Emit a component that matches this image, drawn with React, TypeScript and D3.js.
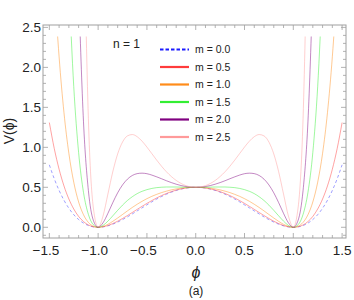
import React, { useEffect, useRef } from 'react';
import * as d3 from 'd3';

// phi grid, -1.5 .. 1.5 in steps of 0.05
const phi = [
  -1.5, -1.45, -1.4, -1.35, -1.3, -1.25, -1.2, -1.15, -1.1, -1.05,
  -1.0, -0.95, -0.9, -0.85, -0.8, -0.75, -0.7, -0.65, -0.6, -0.55,
  -0.5, -0.45, -0.4, -0.35, -0.3, -0.25, -0.2, -0.15, -0.1, -0.05,
  0,
  0.05, 0.1, 0.15, 0.2, 0.25, 0.3, 0.35, 0.4, 0.45, 0.5,
  0.55, 0.6, 0.65, 0.7, 0.75, 0.8, 0.85, 0.9, 0.95, 1.0,
  1.05, 1.1, 1.15, 1.2, 1.25, 1.3, 1.35, 1.4, 1.45, 1.5,
];

// V(phi); null = far above the top of the frame
const m00 = [
  0.781, 0.608, 0.461, 0.338, 0.238, 0.158, 0.097, 0.052, 0.022, 0.005,
  0, 0.005, 0.018, 0.039, 0.065, 0.096, 0.130, 0.167, 0.205, 0.243,
  0.281, 0.318, 0.353, 0.385, 0.414, 0.439, 0.461, 0.478, 0.490, 0.498,
  0.5,
  0.498, 0.490, 0.478, 0.461, 0.439, 0.414, 0.385, 0.353, 0.318, 0.281,
  0.243, 0.205, 0.167, 0.130, 0.096, 0.065, 0.039, 0.018, 0.005, 0,
  0.005, 0.022, 0.052, 0.097, 0.158, 0.238, 0.338, 0.461, 0.608, 0.781,
];
const m05 = [
  1.310, 0.987, 0.726, 0.517, 0.354, 0.229, 0.136, 0.071, 0.029, 0.007,
  0, 0.006, 0.022, 0.046, 0.076, 0.110, 0.147, 0.185, 0.224, 0.262,
  0.299, 0.334, 0.367, 0.397, 0.423, 0.446, 0.465, 0.480, 0.491, 0.498,
  0.5,
  0.498, 0.491, 0.480, 0.465, 0.446, 0.423, 0.397, 0.367, 0.334, 0.299,
  0.262, 0.224, 0.185, 0.147, 0.110, 0.076, 0.046, 0.022, 0.006, 0,
  0.007, 0.029, 0.071, 0.136, 0.229, 0.354, 0.517, 0.726, 0.987, 1.310,
];
const m10 = [
  4.32, 3.07, 2.132, 1.433, 0.925, 0.564, 0.317, 0.157, 0.061, 0.014,
  0, 0.011, 0.037, 0.074, 0.116, 0.160, 0.205, 0.248, 0.288, 0.325,
  0.358, 0.387, 0.412, 0.434, 0.452, 0.468, 0.480, 0.489, 0.495, 0.499,
  0.5,
  0.499, 0.495, 0.489, 0.480, 0.468, 0.452, 0.434, 0.412, 0.387, 0.358,
  0.325, 0.288, 0.248, 0.205, 0.160, 0.116, 0.074, 0.037, 0.011, 0,
  0.014, 0.061, 0.157, 0.317, 0.564, 0.925, 1.433, 2.132, 3.07, 4.32,
];
const m15 = [
  null, null, null, null, 3.06, 1.762, 0.935, 0.436, 0.161, 0.033,
  0, 0.023, 0.077, 0.143, 0.212, 0.277, 0.335, 0.382, 0.421, 0.450,
  0.471, 0.486, 0.496, 0.501, 0.504, 0.504, 0.504, 0.502, 0.501, 0.500,
  0.5,
  0.500, 0.501, 0.502, 0.504, 0.504, 0.504, 0.501, 0.496, 0.486, 0.471,
  0.450, 0.421, 0.382, 0.335, 0.277, 0.212, 0.143, 0.077, 0.023, 0,
  0.033, 0.161, 0.436, 0.935, 1.762, 3.06, null, null, null, null,
];
const m20 = [
  null, null, null, null, null, null, 2.99, 1.319, 0.460, 0.090,
  0, 0.056, 0.174, 0.308, 0.431, 0.530, 0.602, 0.648, 0.671, 0.677,
  0.670, 0.653, 0.631, 0.607, 0.582, 0.559, 0.539, 0.522, 0.510, 0.503,
  0.5,
  0.503, 0.510, 0.522, 0.539, 0.559, 0.582, 0.607, 0.631, 0.653, 0.670,
  0.677, 0.671, 0.648, 0.602, 0.530, 0.431, 0.308, 0.174, 0.056, 0,
  0.090, 0.460, 1.319, 2.99, null, null, null, null, null, null,
];
const m25 = [
  null, null, null, null, null, null, null, 4.11, 1.360, 0.253,
  0, 0.140, 0.415, 0.694, 0.917, 1.066, 1.143, 1.160, 1.133, 1.077,
  1.003, 0.922, 0.840, 0.763, 0.694, 0.635, 0.586, 0.548, 0.521, 0.505,
  0.5,
  0.505, 0.521, 0.548, 0.586, 0.635, 0.694, 0.763, 0.840, 0.922, 1.003,
  1.077, 1.133, 1.160, 1.143, 1.066, 0.917, 0.694, 0.415, 0.140, 0,
  0.253, 1.360, 4.11, null, null, null, null, null, null, null,
];

const seriesNames = ['m = 0.0', 'm = 0.5', 'm = 1.0', 'm = 1.5', 'm = 2.0', 'm = 2.5'];
const seriesValues = [m00, m05, m10, m15, m20, m25];
const colors = ['#1a1aff', '#ff3b3b', '#ff8c1a', '#33ee33', '#800080', '#ff9a9a'];

const xTicks = [-1.5, -1.0, -0.5, 0.0, 0.5, 1.0, 1.5];
const yTicks = [0.0, 0.5, 1.0, 1.5, 2.0, 2.5];

const W = 354;
const H = 300;
const frame = { left: 43, right: 346, top: 25, bottom: 238 };

const App: React.FC = () => {
  const svgRef = useRef<SVGSVGElement>(null);

  useEffect(() => {
    if (!svgRef.current) return;
    const svg = d3.select(svgRef.current);
    svg.selectAll('*').remove();

    const x = d3.scaleLinear().domain([-1.565, 1.54]).range([frame.left, frame.right]);
    const y = d3.scaleLinear().domain([-0.134, 2.53]).range([frame.bottom, frame.top]);

    const frameColor = '#a0a0a0';
    const font = "'Liberation Sans', Arial, sans-serif";

    svg.append('defs').append('clipPath').attr('id', 'plot-clip')
      .append('rect')
      .attr('x', frame.left)
      .attr('y', y(2.385))
      .attr('width', frame.right - frame.left)
      .attr('height', frame.bottom - y(2.385));

    // curves
    const line = d3.line<number | null>()
      .defined(d => d != null)
      .x((_, i) => x(phi[i]))
      .y(d => y(d as number))
      .curve(d3.curveMonotoneX);

    const curves = svg.append('g').attr('clip-path', 'url(#plot-clip)');
    seriesValues.forEach((vals, i) => {
      curves.append('path')
        .datum(vals)
        .attr('fill', 'none')
        .attr('stroke', colors[i])
        .attr('stroke-width', 0.7)
        .attr('stroke-opacity', i === 0 ? 0.6 : 0.68)
        .attr('stroke-dasharray', i === 0 ? '3,2.5' : null)
        .attr('d', line);
    });

    // frame
    svg.append('rect')
      .attr('x', frame.left)
      .attr('y', frame.top)
      .attr('width', frame.right - frame.left)
      .attr('height', frame.bottom - frame.top)
      .attr('fill', 'none')
      .attr('stroke', frameColor)
      .attr('stroke-width', 1);

    // ticks on all four sides
    const ticks = svg.append('g').attr('stroke', frameColor).attr('stroke-width', 0.8);
    const xMinor = d3.range(-15, 16).map(k => k / 10);
    xMinor.forEach(v => {
      const major = Math.abs(v * 2 - Math.round(v * 2)) < 1e-6;
      const len = major ? 5 : 3;
      ticks.append('line').attr('x1', x(v)).attr('x2', x(v))
        .attr('y1', frame.bottom).attr('y2', frame.bottom - len);
      ticks.append('line').attr('x1', x(v)).attr('x2', x(v))
        .attr('y1', frame.top).attr('y2', frame.top + len);
    });
    const yMinor = d3.range(-1, 26).map(k => k / 10);
    yMinor.forEach(v => {
      const major = Math.abs(v * 2 - Math.round(v * 2)) < 1e-6;
      const len = major ? 5 : 3;
      ticks.append('line').attr('y1', y(v)).attr('y2', y(v))
        .attr('x1', frame.left).attr('x2', frame.left + len);
      ticks.append('line').attr('y1', y(v)).attr('y2', y(v))
        .attr('x1', frame.right).attr('x2', frame.right - len);
    });

    // tick labels
    svg.append('g').selectAll('text')
      .data(xTicks)
      .enter()
      .append('text')
      .attr('x', d => x(d) - (d < 0 ? 3.5 : 0))
      .attr('y', 255)
      .attr('text-anchor', 'middle')
      .attr('font-family', font)
      .attr('font-size', 13.5)
      .attr('fill', '#222')
      .text(d => (d < 0 ? '\u2212' : '') + Math.abs(d).toFixed(1));

    svg.append('g').selectAll('text')
      .data(yTicks)
      .enter()
      .append('text')
      .attr('x', 41)
      .attr('y', d => y(d) + 4.8)
      .attr('text-anchor', 'end')
      .attr('font-family', font)
      .attr('font-size', 13.5)
      .attr('fill', '#222')
      .text(d => d.toFixed(1));

    // axis labels
    svg.append('text')
      .attr('transform', `translate(14,${131}) rotate(-90)`)
      .attr('text-anchor', 'middle')
      .attr('font-family', font)
      .attr('font-size', 14)
      .attr('fill', '#222')
      .text('V(\u03D5)');

    svg.append('text')
      .attr('x', 196)
      .attr('y', 278)
      .attr('text-anchor', 'middle')
      .attr('font-family', font)
      .attr('font-style', 'italic')
      .attr('font-size', 16)
      .attr('fill', '#222')
      .text('\u03D5');

    svg.append('text')
      .attr('x', 196)
      .attr('y', 295)
      .attr('text-anchor', 'middle')
      .attr('font-family', font)
      .attr('font-size', 12)
      .attr('fill', '#222')
      .text('(a)');

    svg.append('text')
      .attr('x', 113)
      .attr('y', 48)
      .attr('font-family', font)
      .attr('font-size', 12)
      .attr('fill', '#222')
      .text('n = 1');

    // legend
    const legend = svg.append('g');
    seriesNames.forEach((name, i) => {
      const ly = 49.5 + i * 17.5;
      legend.append('line')
        .attr('x1', 160).attr('x2', 189)
        .attr('y1', ly).attr('y2', ly)
        .attr('stroke', colors[i])
        .attr('stroke-width', 2.2)
        .attr('stroke-dasharray', i === 0 ? '3.5,2' : null);
      legend.append('text')
        .attr('x', 195)
        .attr('y', ly + 3.8)
        .attr('font-family', font)
        .attr('font-size', 10.5)
        .attr('fill', '#222')
        .text(name);
    });
  }, []);

  return (
    <svg ref={svgRef} width={W} height={H} viewBox={`0 0 ${W} ${H}`}
      style={{ position: 'absolute', left: 0, top: 0, background: '#fff' }} />
  );
};

export default App;
